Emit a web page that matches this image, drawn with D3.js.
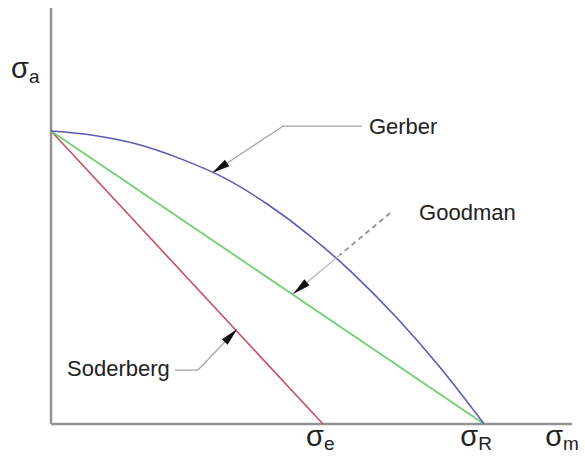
<!DOCTYPE html>
<html>
<head>
<meta charset="utf-8">
<script src="https://cdn.jsdelivr.net/npm/d3@7"></script>
<style>
  html, body { margin: 0; padding: 0; background: #fff; }
  svg { display: block; font-family: "Liberation Sans", Arial, sans-serif; }
</style>
</head>
<body>
<svg id="chart" width="585" height="468"></svg>
<script>
// Fatigue criteria in the mean stress / alternating stress plane,
// stresses normalised to the ultimate strength sigma_R and endurance limit.
const sigmaE = 0.628;   // intercept of the Soderberg line on the mean-stress axis
const sigmaR = 1.0;     // ultimate strength
const sigmaA0 = 1.0;    // endurance limit on the alternating axis

// Gerber parabola, sampled along the mean-stress axis
const gerberM = [0, 0.1, 0.2, 0.3, 0.4, 0.5, 0.6, 0.7, 0.8, 0.9, 1.0];
const gerberA = [1.0, 0.985, 0.955, 0.905, 0.84, 0.75, 0.64, 0.51, 0.36, 0.19, 0];

// Straight-line criteria: endpoints
const goodmanM = [0, sigmaR];
const goodmanA = [sigmaA0, 0];
const soderbergM = [0, sigmaE];
const soderbergA = [sigmaA0, 0];

// Axis extents
const xMax = 1.203;
const yMax = 1.42;

// Horizontal axis labels: symbol, subscript, left edge in mean-stress units
const axisLabels = [
  { main: "σ", sub: "e", at: 0.589 },
  { main: "σ", sub: "R", at: 0.945 },
  { main: "σ", sub: "m", at: 1.141 }
];

// Callouts: leader polyline from tip (on the curve) to the label
const callouts = [
  { name: "Gerber", pts: [[0.372, 0.857], [0.536, 1.017], [0.718, 1.017]],
    text: [0.734, 0.990], dashed: 0 },
  { name: "Goodman", pts: [[0.559, 0.444], [0.783, 0.720]],
    text: [0.850, 0.696], dashed: 0.52 },
  { name: "Soderberg", pts: [[0.430, 0.324], [0.339, 0.184], [0.286, 0.184]],
    text: [0.037, 0.164], dashed: 0 }
];

const svg = d3.select("#chart");
const x = d3.scaleLinear().domain([0, xMax]).range([51, 572]);
const y = d3.scaleLinear().domain([0, yMax]).range([424, 8]);

// Axes
const axisColor = "#939393";
svg.append("line")
  .attr("x1", x(0)).attr("y1", y(0)).attr("x2", x(0)).attr("y2", y(yMax))
  .attr("stroke", axisColor).attr("stroke-width", 2.5);
svg.append("line")
  .attr("x1", x(0)).attr("y1", y(0)).attr("x2", x(xMax)).attr("y2", y(0))
  .attr("stroke", axisColor).attr("stroke-width", 2.5);

const line = d3.line().x(d => x(d[0])).y(d => y(d[1]));

// Soderberg
svg.append("path")
  .datum(d3.zip(soderbergM, soderbergA))
  .attr("d", line).attr("fill", "none")
  .attr("stroke", "#c8505e").attr("stroke-width", 1.6);

// Goodman
svg.append("path")
  .datum(d3.zip(goodmanM, goodmanA))
  .attr("d", line).attr("fill", "none")
  .attr("stroke", "#72d072").attr("stroke-width", 1.8);

// Gerber
svg.append("path")
  .datum(d3.zip(gerberM, gerberA))
  .attr("d", line.curve(d3.curveMonotoneX)).attr("fill", "none")
  .attr("stroke", "#5a5ab8").attr("stroke-width", 1.6);

// Callouts with arrowheads
callouts.forEach(c => {
  const p = c.pts.map(d => [x(d[0]), y(d[1])]);
  if (c.dashed > 0) {
    const a = p[0], b = p[1];
    const m = [b[0] + (a[0] - b[0]) * c.dashed, b[1] + (a[1] - b[1]) * c.dashed];
    svg.append("path").attr("d", d3.line()([b, m]))
      .attr("fill", "none").attr("stroke", "#8e8e8e")
      .attr("stroke-width", 1.8).attr("stroke-dasharray", "5,4");
    svg.append("path").attr("d", d3.line()([m, a]))
      .attr("fill", "none").attr("stroke", "#b0b0b0").attr("stroke-width", 1.2);
  } else {
    svg.append("path").attr("d", d3.line()(p))
      .attr("fill", "none").attr("stroke", "#a0a0a0").attr("stroke-width", 1.3);
  }
  // arrowhead pointing at the first point
  const [tx, ty] = p[0];
  const dx = p[1][0] - tx, dy = p[1][1] - ty;
  const len = Math.hypot(dx, dy);
  const ux = dx / len, uy = dy / len;
  const L = 18, W = 4;
  const bx = tx + ux * L, by = ty + uy * L;
  svg.append("path")
    .attr("d", `M${tx},${ty}L${bx - uy * W},${by + ux * W}L${bx + uy * W},${by - ux * W}Z`)
    .attr("fill", "#111");

  svg.append("text")
    .attr("x", x(c.text[0])).attr("y", y(c.text[1]))
    .attr("font-size", 22).attr("fill", "#222")
    .text(c.name);
});

// Vertical axis label
const yl = svg.append("text").attr("x", 11).attr("y", 78).attr("fill", "#222");
yl.append("tspan").attr("font-size", 29).text("σ");
yl.append("tspan").attr("font-size", 19).attr("dy", 5).text("a");

// Horizontal axis labels
axisLabels.forEach(l => {
  const t = svg.append("text")
    .attr("x", x(l.at)).attr("y", 446).attr("fill", "#222");
  t.append("tspan").attr("font-size", 29).text(l.main);
  t.append("tspan").attr("font-size", 19).attr("dy", 4).text(l.sub);
});
</script>
</body>
</html>
